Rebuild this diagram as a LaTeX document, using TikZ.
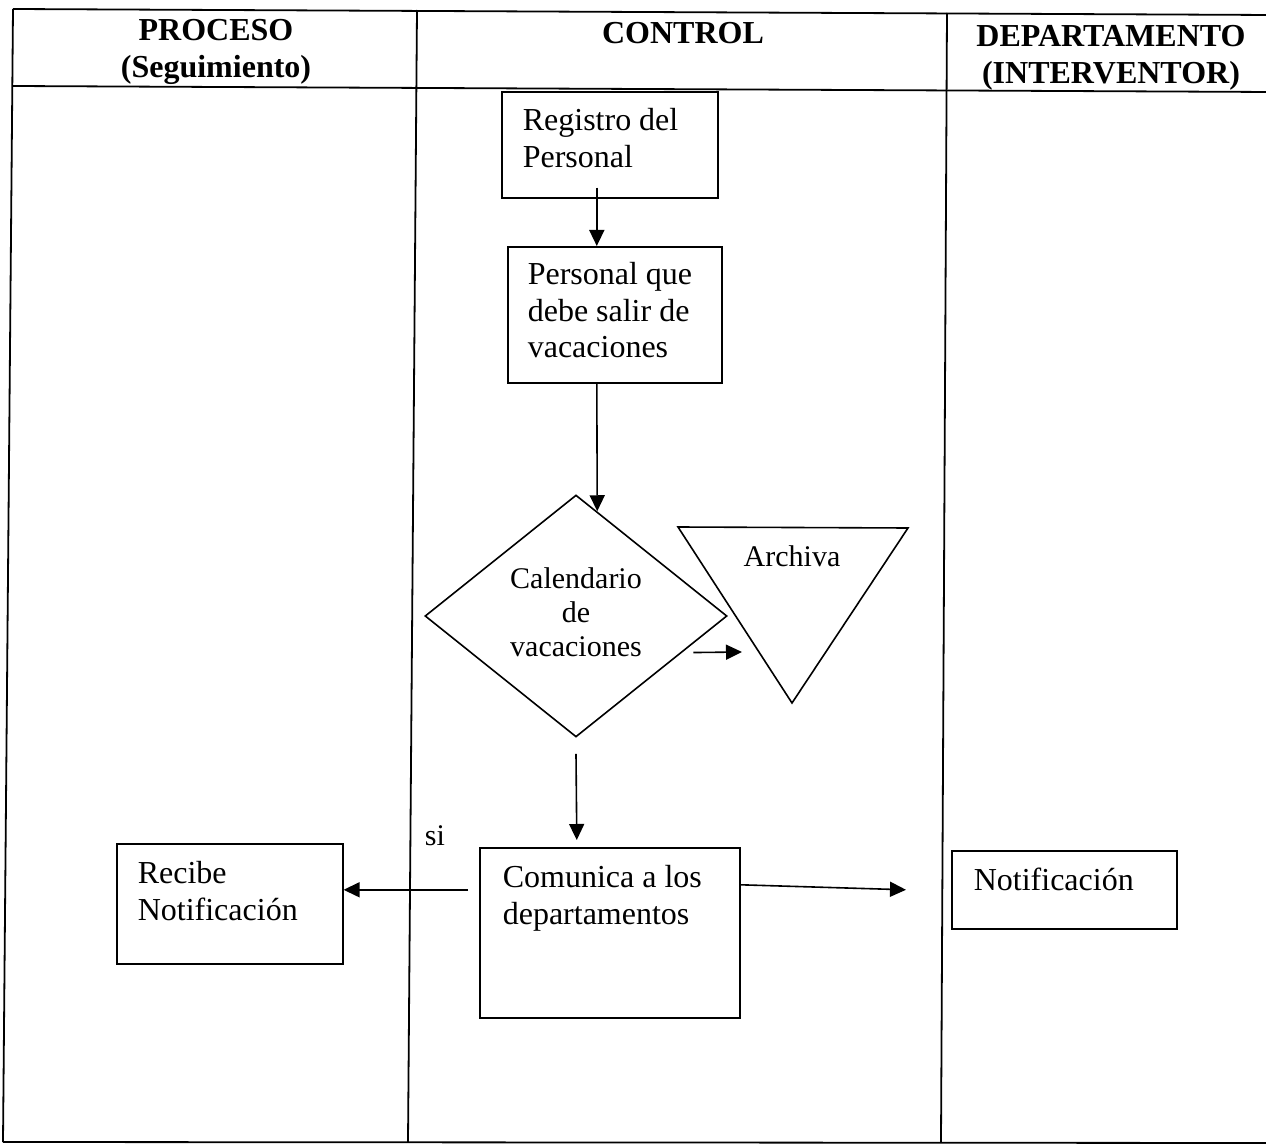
\documentclass[tikz,border=0pt]{standalone}
\usepackage{fontspec}
\setmainfont{Liberation Serif}
\usetikzlibrary{arrows.meta,shapes.geometric,calc}

% Box body: width, height, left padding, first baseline below top, text
\newcommand\boxbody[5]{\parbox[c][#2][t]{#1}{\raggedright\leftskip=#3\relax\rule{0pt}{#4}#5\par}}

\begin{document}
\begin{tikzpicture}[x=0.5pt,y=-0.5pt,
  box/.style={draw,line width=0.8pt,inner sep=0pt,anchor=north west,
              font=\fontsize{16}{18.2}\selectfont},
  head/.style={font=\fontsize{16}{18.5}\selectfont\bfseries,align=center,inner sep=0pt},
  small/.style={font=\fontsize{15}{17}\selectfont,inner sep=0pt},
  arr/.style={line width=0.8pt,-{Triangle[length=8pt,width=7.5pt]}},
  grid/.style={line width=0.9pt}]
\useasboundingbox (0,0) rectangle (1266,1145);

% table frame and swimlanes
\draw[grid] (13,9) -- (1272,15);
\draw[grid] (13,86) -- (1272,92);
\draw[grid] (3,1142) -- (1272,1143);
\draw[grid] (13,9) -- (3,1142);
\draw[grid] (417,10) -- (408,1142);
\draw[grid] (947,13) -- (941,1142);

% lane headings
\node[head] (hproc) at (216,52) {PROCESO\\(Seguimiento)};
\node[head] (hctrl) at (683,33) {CONTROL};
\node[head] (hdept) at (1111,58) {DEPARTAMENTO\\(INTERVENTOR)};

% process steps
\node[box] (reg) at (501,91) {\boxbody{108pt}{53pt}{10.5pt}{19.5pt}{Registro del\\Personal}};
\node[box] (per) at (507,246) {\boxbody{107pt}{68pt}{10pt}{19pt}{Personal que\\debe salir de\\vacaciones}};
\node[diamond,draw,line width=0.8pt,minimum width=151pt,minimum height=121pt,
      inner sep=0pt,font=\fontsize{15}{17}\selectfont] (cal) at (576,616)
      {\raisebox{2pt}{\begin{tabular}{@{}c@{}}Calendario\\de\\vacaciones\end{tabular}}};
\node[small] (arch) at (792,556) {Archiva};
\draw[line width=0.8pt] (678,527) -- (908,528) -- (792,703) -- cycle;
\node[box] (com) at (479,847) {\boxbody{130pt}{85pt}{11.5pt}{20pt}{Comunica a los\\departamentos}};
\node[box] (rec) at (116,843) {\boxbody{113pt}{60pt}{10.5pt}{20pt}{Recibe\\Notificación}};
\node[box] (notif) at (951,850) {\boxbody{112.5pt}{39pt}{11pt}{20pt}{Notificación}};
\node[small,anchor=base] (si) at (435,845) {si};

% flow
\coordinate (archin) at (742,652);
\draw[arr] ([xshift=-6.5pt,yshift=5.5pt]reg.south) -- ([xshift=-9pt]per.north);
\draw[arr] ([xshift=-9pt]per.south) -- ($(cal.north)!0.14!(cal.east)$);
\draw[arr] ($(cal.east)!0.3!(cal.south)+(5.5pt,0pt)$) -- (archin);
\draw[arr] ([yshift=-8pt]cal.south) -- ([xshift=-16.5pt,yshift=3.5pt]com.north);
\draw[arr] ($(com.west)+(-5.5pt,21.5pt)$) -- ([yshift=7pt]rec.east);
\draw[arr] ([yshift=24pt]com.east) -- ([xshift=-22.5pt]notif.west);
\end{tikzpicture}
\end{document}
